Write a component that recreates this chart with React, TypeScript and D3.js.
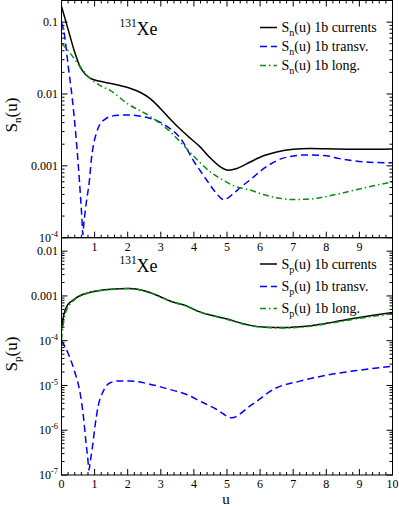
import React from "react";
import * as d3 from "d3";

// ---------- data ----------
// Top panel: S_n(u)
const uNc = [0, 0.1, 0.26, 0.4, 0.56, 0.7, 0.86, 1.16, 1.5, 2.0, 2.4, 2.67, 3.0, 3.28, 3.6, 3.9, 4.18, 4.5, 4.8, 5.04, 5.3, 5.7, 6.1, 6.5, 7.0, 7.5, 8.0, 9.0, 10.0];
const sNc = [0.165, 0.115, 0.063, 0.038, 0.024, 0.0192, 0.0166, 0.015, 0.014, 0.0123, 0.0104, 0.0087, 0.0062, 0.0045, 0.0032, 0.0024, 0.00185, 0.00128, 0.00097, 0.00087, 0.00092, 0.00113, 0.00138, 0.00156, 0.0017, 0.00174, 0.00173, 0.0017, 0.00172];

const uNt = [0, 0.08, 0.205, 0.33, 0.43, 0.51, 0.58, 0.615, 0.645, 0.675, 0.71, 0.77, 0.84, 0.9, 0.96, 1.06, 1.16, 1.3, 1.47, 1.75, 2.0, 2.4, 2.67, 3.0, 3.28, 3.6, 4.0, 4.18, 4.4, 4.6, 4.75, 4.89, 5.0, 5.19, 5.45, 5.7, 6.2, 6.7, 7.4, 8.0, 8.4, 9.2, 10];
const sNt = [0.1, 0.07, 0.024, 0.0083, 0.0028, 0.00098, 0.00034, 0.00019, 0.00011, 0.00016, 0.00022, 0.00036, 0.0006, 0.0012, 0.0019, 0.0029, 0.0038, 0.0044, 0.00485, 0.00505, 0.0051, 0.0049, 0.0046, 0.004, 0.0033, 0.0024, 0.00115, 0.00087, 0.00062, 0.00046, 0.00038, 0.00034, 0.00035, 0.00041, 0.00052, 0.00064, 0.00098, 0.00128, 0.00142, 0.00138, 0.00126, 0.00113, 0.0011];

const uNl = [0, 0.26, 0.56, 0.86, 1.16, 1.47, 2.0, 2.67, 3.28, 3.7, 4.18, 4.5, 4.89, 5.19, 5.7, 6.1, 6.5, 7.0, 7.5, 8.0, 8.4, 9.2, 10];
const sNl = [0.051, 0.037, 0.024, 0.0166, 0.0132, 0.0112, 0.0073, 0.0049, 0.003, 0.0019, 0.00112, 0.00082, 0.00063, 0.00053, 0.00046, 0.0004, 0.00036, 0.00034, 0.000345, 0.000375, 0.00041, 0.0005, 0.0006];

// Bottom panel: S_p(u)
const uPc = [0, 0.05, 0.1, 0.18, 0.31, 0.45, 0.66, 0.9, 1.16, 1.5, 2.0, 2.4, 2.67, 3.0, 3.28, 3.78, 4.18, 4.6, 5.04, 5.4, 5.7, 6.2, 6.7, 7.2, 7.7, 8.2, 9.0, 10];
const sPc = [1.8e-4, 3.2e-4, 4.6e-4, 6.2e-4, 7.7e-4, 9.2e-4, 1.09e-3, 1.23e-3, 1.33e-3, 1.41e-3, 1.46e-3, 1.36e-3, 1.19e-3, 9.5e-4, 7.7e-4, 6.0e-4, 4.4e-4, 3.6e-4, 3.0e-4, 2.5e-4, 2.2e-4, 2.0e-4, 1.97e-4, 2.06e-4, 2.25e-4, 2.6e-4, 3.3e-4, 4.25e-4];

const uPl = [0, 0.05, 0.1, 0.18, 0.31, 0.45, 0.66, 0.9, 1.16, 1.5, 2.0, 2.4, 2.67, 3.0, 3.28, 3.78, 4.18, 4.6, 5.04, 5.4, 5.7, 6.2, 6.7, 7.2, 7.7, 8.2, 9.0, 10];
const sPl = [1.05e-4, 2.2e-4, 3.6e-4, 5.4e-4, 7.2e-4, 8.9e-4, 1.07e-3, 1.22e-3, 1.32e-3, 1.4e-3, 1.46e-3, 1.36e-3, 1.19e-3, 9.5e-4, 7.7e-4, 5.9e-4, 4.35e-4, 3.55e-4, 2.95e-4, 2.45e-4, 2.17e-4, 1.97e-4, 1.93e-4, 2.0e-4, 2.18e-4, 2.5e-4, 3.15e-4, 4.0e-4];

const uPt = [0, 0.21, 0.41, 0.56, 0.66, 0.74, 0.79, 0.83, 0.86, 0.93, 1.01, 1.11, 1.26, 1.47, 1.72, 2.07, 2.67, 3.28, 3.78, 4.18, 4.69, 5.14, 5.7, 6.5, 7.2, 8.2, 9.0, 10];
const sPt = [1.0e-4, 5.0e-5, 1.9e-5, 6.9e-6, 2.1e-6, 5.3e-7, 2.5e-7, 1.3e-7, 1.8e-7, 4.0e-7, 1.2e-6, 3.5e-6, 7.4e-6, 1.15e-5, 1.26e-5, 1.26e-5, 1.07e-5, 8.1e-6, 6.3e-6, 4.5e-6, 2.9e-6, 1.9e-6, 3.5e-6, 8.9e-6, 1.25e-5, 1.8e-5, 2.2e-5, 2.7e-5];

const xTicksTop = [1, 2, 3, 4, 5, 6, 7, 8, 9];
const xTicksBottom = [0, 1, 2, 3, 4, 5, 6, 7, 8, 9, 10];
const yLabelsTop: [number, string, string][] = [[0.1, "0.1", ""], [0.01, "0.01", ""], [0.001, "0.001", ""], [1e-4, "10", "-4"]];
const yLabelsBottom: [number, string, string][] = [[0.01, "0.01", ""], [0.001, "0.001", ""], [1e-4, "10", "-4"], [1e-5, "10", "-5"], [1e-6, "10", "-6"], [1e-7, "10", "-7"]];
const legendLabels = ["1b currents", "1b transv.", "1b long."];

const FONT = '"Liberation Serif", "Times New Roman", Times, "DejaVu Serif", serif';
const BLUE = "#0000ff";
const GREEN = "#0a8f0a";
const styles = [
  { color: "#000", dash: "none" },
  { color: BLUE, dash: "7,4" },
  { color: GREEN, dash: "6,3,1.5,3" },
];

const X0 = 61.5, X1 = 392.5;
const x = d3.scaleLinear().domain([0, 10]).range([X0, X1]);

function minorLog(domain: [number, number]) {
  const out: number[] = [];
  const lo = Math.floor(Math.log10(domain[0]));
  const hi = Math.ceil(Math.log10(domain[1]));
  for (let e = lo; e <= hi; e++) {
    for (let m = 2; m <= 9; m++) {
      const v = m * Math.pow(10, e);
      if (v > domain[0] && v < domain[1]) out.push(v);
    }
  }
  return out;
}

type Series = { u: number[]; s: number[] };

function Panel(props: {
  id: string; top: number; bottom: number; domain: [number, number];
  series: Series[]; yLabels: [number, string, string][]; xLabels: number[];
  topTicks: boolean; sub: string; yTitleY: number; legendY: number[];
}) {
  const { id, top, bottom, domain, series, yLabels, xLabels, topTicks, sub, yTitleY, legendY } = props;
  const y = d3.scaleLog().domain(domain).range([bottom, top]);
  const line = d3.line<[number, number]>().x((d) => x(d[0])).y((d) => y(d[1])).curve(d3.curveMonotoneX);
  const majors = d3.range(Math.ceil(Math.log10(domain[0])), Math.floor(Math.log10(domain[1])) + 1).map((e) => Math.pow(10, e));
  const minors = minorLog(domain);
  const xMinor = d3.range(0, 50).map((i) => i * 0.2).filter((v) => Math.abs(v - Math.round(v)) > 1e-6 && v < 10);
  const xMajor = d3.range(0, 11);
  const font = { fontFamily: FONT };
  return (
    <g>
      <defs>
        <clipPath id={"clip" + id}>
          <rect x={X0} y={top} width={X1 - X0} height={bottom - top} />
        </clipPath>
      </defs>
      <g clipPath={`url(#clip${id})`} fill="none" strokeWidth={1.5}>
        {series.map((se, i) => (
          <path key={i} d={line(se.u.map((u, k) => [u, se.s[k]] as [number, number])) || ""}
            stroke={styles[i].color} strokeDasharray={styles[i].dash} />
        ))}
      </g>
      <rect x={X0} y={top} width={X1 - X0} height={bottom - top} fill="none" stroke="#000" strokeWidth={1} />
      <g stroke="#000" strokeWidth={1}>
        {xMajor.map((v) => <line key={"xb" + v} x1={x(v)} x2={x(v)} y1={bottom} y2={bottom - 6} />)}
        {xMinor.map((v) => <line key={"xbm" + v} x1={x(v)} x2={x(v)} y1={bottom} y2={bottom - 3} />)}
        {topTicks && xMajor.map((v) => <line key={"xt" + v} x1={x(v)} x2={x(v)} y1={top} y2={top + 6} />)}
        {topTicks && xMinor.map((v) => <line key={"xtm" + v} x1={x(v)} x2={x(v)} y1={top} y2={top + 3} />)}
        {majors.map((v) => <line key={"yl" + v} x1={X0} x2={X0 + 6} y1={y(v)} y2={y(v)} />)}
        {minors.map((v) => <line key={"ylm" + v} x1={X0} x2={X0 + 3} y1={y(v)} y2={y(v)} />)}
        {majors.map((v) => <line key={"yr" + v} x1={X1} x2={X1 - 6} y1={y(v)} y2={y(v)} />)}
        {minors.map((v) => <line key={"yrm" + v} x1={X1} x2={X1 - 3} y1={y(v)} y2={y(v)} />)}
      </g>
      <g style={font} fontSize={12} fill="#000">
        {yLabels.map(([v, base, exp]) => (
          <text key={"yt" + v} x={58} y={y(v)} dy="0.35em" textAnchor="end">
            {base}
            {exp && <tspan dy={-5} fontSize={8.5}>{exp}</tspan>}
          </text>
        ))}
        {xLabels.map((v) => (
          <text key={"xtl" + v} x={x(v)} y={bottom + 13} textAnchor="middle">{v}</text>
        ))}
      </g>
      <text transform={`translate(17,${yTitleY}) rotate(-90)`} textAnchor="middle" style={font} fontSize={17}>
        S<tspan dy={4} fontSize={11}>{sub}</tspan><tspan dy={-4}>(u)</tspan>
      </text>
      <text x={119.5} y={top + 26} style={font} fontSize={11.5}>131</text>
      <text x={136.5} y={top + 34.5} style={font} fontSize={18}>Xe</text>
      {legendLabels.map((lab, i) => (
        <g key={"lg" + i}>
          <line x1={260} x2={277} y1={legendY[i]} y2={legendY[i]} stroke={styles[i].color}
            strokeDasharray={styles[i].dash} strokeWidth={1.5} />
          <text x={281.5} y={legendY[i] + 4.5} style={font} fontSize={14}>
            S<tspan dy={4} fontSize={10}>{sub}</tspan><tspan dy={-4}>(u) {lab}</tspan>
          </text>
        </g>
      ))}
    </g>
  );
}

export default function App() {
  return (
    <svg width={399} height={506} style={{ position: "absolute", left: 0, top: 0, background: "#fff" }}>
      <rect width={399} height={506} fill="#fff" />
      <Panel id="t" top={0.5} bottom={237.7} domain={[1e-4, 0.2]}
        series={[{ u: uNc, s: sNc }, { u: uNt, s: sNt }, { u: uNl, s: sNl }]}
        yLabels={yLabelsTop} xLabels={xTicksTop} topTicks={true} sub="n" yTitleY={115}
        legendY={[27.5, 46.5, 65.5]} />
      <Panel id="b" top={237.7} bottom={475} domain={[1e-7, 0.02]}
        series={[{ u: uPc, s: sPc }, { u: uPt, s: sPt }, { u: uPl, s: sPl }]}
        yLabels={yLabelsBottom} xLabels={xTicksBottom} topTicks={false} sub="p" yTitleY={354}
        legendY={[264, 286.5, 308.5]} />
      <text x={226} y={504} textAnchor="middle" style={{ fontFamily: FONT }} fontSize={15}>u</text>
    </svg>
  );
}
